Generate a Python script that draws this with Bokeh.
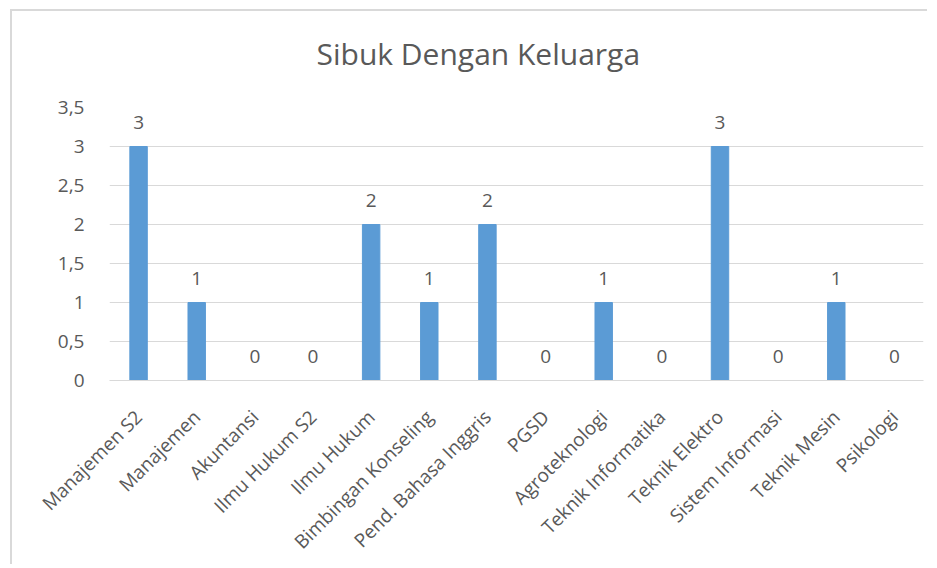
import math
from bokeh.plotting import figure
from bokeh.models import ColumnDataSource, FixedTicker, LabelSet, Title
from bokeh.core.properties import value
from bokeh.embed import file_html
from bokeh.resources import INLINE

categories = ["Manajemen S2", "Manajemen", "Akuntansi", "Ilmu Hukum S2", "Ilmu Hukum",
              "Bimbingan Konseling", "Pend. Bahasa Inggris", "PGSD", "Agroteknologi",
              "Teknik Informatika", "Teknik Elektro", "Sistem Informasi", "Teknik Mesin",
              "Psikologi"]
values = [3, 1, 0, 0, 2, 1, 2, 0, 1, 0, 3, 0, 1, 0]
y_ticks = [0, 0.5, 1, 1.5, 2, 2.5, 3, 3.5]
y_tick_labels = ["0", "0,5", "1", "1,5", "2", "2,5", "3", "3,5"]
title_text = "Sibuk Dengan Keluarga"

FONT = "Open Sans"
TEXT = "#595959"
BAR = "#5B9BD5"
GRID = "#D9D9D9"

src = ColumnDataSource(dict(cat=categories, val=values, lab=[str(v) for v in values]))

p = figure(x_range=categories, y_range=(0, 3.5), width=917, height=555, title=None,
           output_backend="svg", toolbar_location=None,
           min_border_left=97, min_border_right=6, min_border_top=95, min_border_bottom=186)
p.styles = {"margin-left": "10px", "margin-top": "9px",
            "border-left": "2px solid #D9D9D9", "border-top": "2px solid #D9D9D9"}
p.outline_line_color = None
p.background_fill_color = "white"
p.border_fill_color = "white"

# spacer between title and plot area, then the title itself
p.add_layout(Title(text=" ", text_font_size="10px", standoff=2, text_color="white"), "above")
p.add_layout(Title(text=title_text, align="left", offset=207, standoff=38,
                   text_color=TEXT, text_font=FONT, text_font_size="30px",
                   text_font_style="normal"), "above")

p.vbar(x="cat", top="val", width=0.3, source=src, fill_color=BAR, line_color=BAR)

p.add_layout(LabelSet(x="cat", y="val", text="lab", source=src, text_align="center",
                      text_baseline="alphabetic", y_offset=18, text_color=TEXT,
                      text_font=value(FONT), text_font_size="19px"))

p.xgrid.grid_line_color = None
p.ygrid.grid_line_color = GRID
p.ygrid.grid_line_width = 1

p.yaxis.ticker = FixedTicker(ticks=y_ticks)
p.yaxis.major_label_overrides = {t: l for t, l in zip(y_ticks, y_tick_labels)}
p.yaxis.axis_line_color = None
p.yaxis.major_tick_line_color = None
p.yaxis.minor_tick_line_color = None
p.yaxis.major_label_standoff = 19
p.yaxis.major_label_text_font_size = "19px"

p.xaxis.axis_line_color = GRID
p.xaxis.axis_line_width = 1
p.xaxis.major_tick_line_color = None
p.xaxis.minor_tick_line_color = None
p.xaxis.major_label_orientation = math.pi / 4
p.xaxis.major_label_standoff = 27
p.xaxis.major_label_text_font_size = "19px"

for ax in (p.xaxis, p.yaxis):
    ax.major_label_text_color = TEXT
    ax.major_label_text_font = FONT

open("out.html", "w").write(file_html(p, INLINE))
